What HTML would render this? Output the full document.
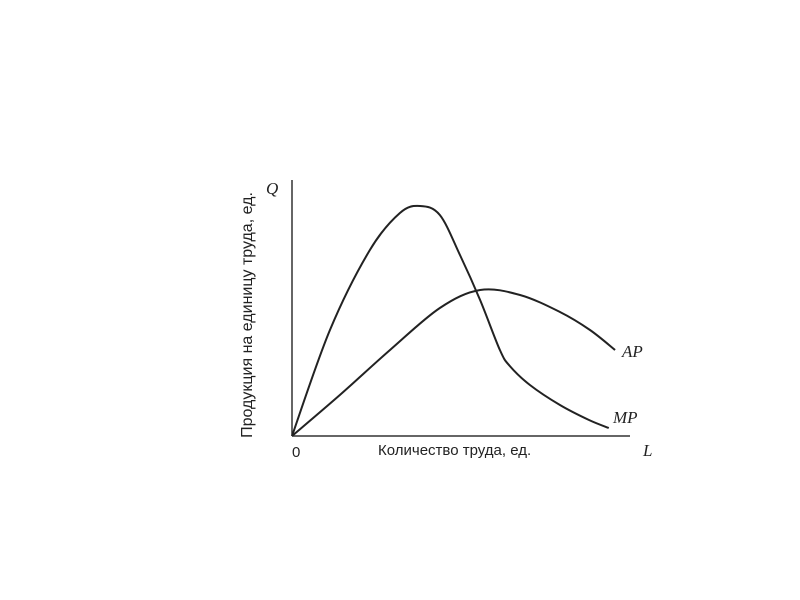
<!DOCTYPE html>
<html><head><meta charset="utf-8"><style>
body{margin:0;background:#fff;}
svg{display:block;}
text{fill:#222;}
</style></head><body>
<svg width="800" height="600">
<g id="g"></g>
</svg>
<script>
const L_MP=[0,11.5,23.6,32.7,38.8,44.8,50.9,57,63,66,72.1,81.2,90,96];
const Q_MP=[0,42.4,74.4,89.2,92,88.4,72.4,54.4,34.4,28,20.4,12.4,6.4,3.2];
const L_AP=[0,14.5,29.7,44.8,57,69.1,81.2,90.3,97.9];
const Q_AP=[0,16.4,34.4,51.2,58.4,56.4,49.6,42.4,34.4];
const X0=292,Y0=436;
function xs(v){return X0+v*3.3;}
function ys(v){return Y0-v*2.5;}
const NS='http://www.w3.org/2000/svg';
const g=document.getElementById('g');
function mk(t,a){const e=document.createElementNS(NS,t);for(const k in a)e.setAttribute(k,a[k]);g.appendChild(e);return e;}
function path(L,Q){
  const p=L.map((l,i)=>[xs(l),ys(Q[i])]);
  let d='M'+p[0][0]+','+p[0][1];
  for(let i=0;i<p.length-1;i++){
    const a=p[i-1]||p[i],b=p[i],c=p[i+1],e=p[i+2]||c;
    const c1=[b[0]+(c[0]-a[0])/6,b[1]+(c[1]-a[1])/6],c2=[c[0]-(e[0]-b[0])/6,c[1]-(e[1]-b[1])/6];
    d+=` C${c1[0]},${c1[1]} ${c2[0]},${c2[1]} ${c[0]},${c[1]}`;
  }
  return d;
}
let e;
e=mk('line',{x1:X0,y1:Y0,x2:X0,y2:180,stroke:'#333','stroke-width':1.5});


e=mk('line',{x1:X0,y1:Y0,x2:630,y2:Y0,stroke:'#333','stroke-width':1.5});


e=mk('path',{d:path(L_MP,Q_MP),fill:'none',stroke:'#222','stroke-width':2});


e=mk('path',{d:path(L_AP,Q_AP),fill:'none',stroke:'#222','stroke-width':2});


function txt(s,a,name){const t=mk('text',a);t.textContent=s;return t;}
txt('AP',{x:622,y:357,'font-family':'Liberation Serif, serif','font-style':'italic','font-size':17},'ap-label');
txt('MP',{x:613,y:423,'font-family':'Liberation Serif, serif','font-style':'italic','font-size':17},'mp-label');
txt('Q',{x:266,y:194,'font-family':'Liberation Serif, serif','font-style':'italic','font-size':17},'y-axis-symbol');
txt('L',{x:643,y:456,'font-family':'Liberation Serif, serif','font-style':'italic','font-size':17},'x-axis-symbol');
txt('0',{x:292,y:457,'font-family':'Liberation Sans, sans-serif','font-size':15},'origin-label');
txt('Количество труда, ед.',{x:378,y:455,'font-family':'Liberation Sans, sans-serif','font-size':15},'x-axis-title');
txt('Продукция на единицу труда, ед.',{x:0,y:0,'font-family':'Liberation Sans, sans-serif','font-size':16,'text-anchor':'middle',transform:'translate(252,315) rotate(-90)'},'y-axis-title');
</script>
</body></html>
